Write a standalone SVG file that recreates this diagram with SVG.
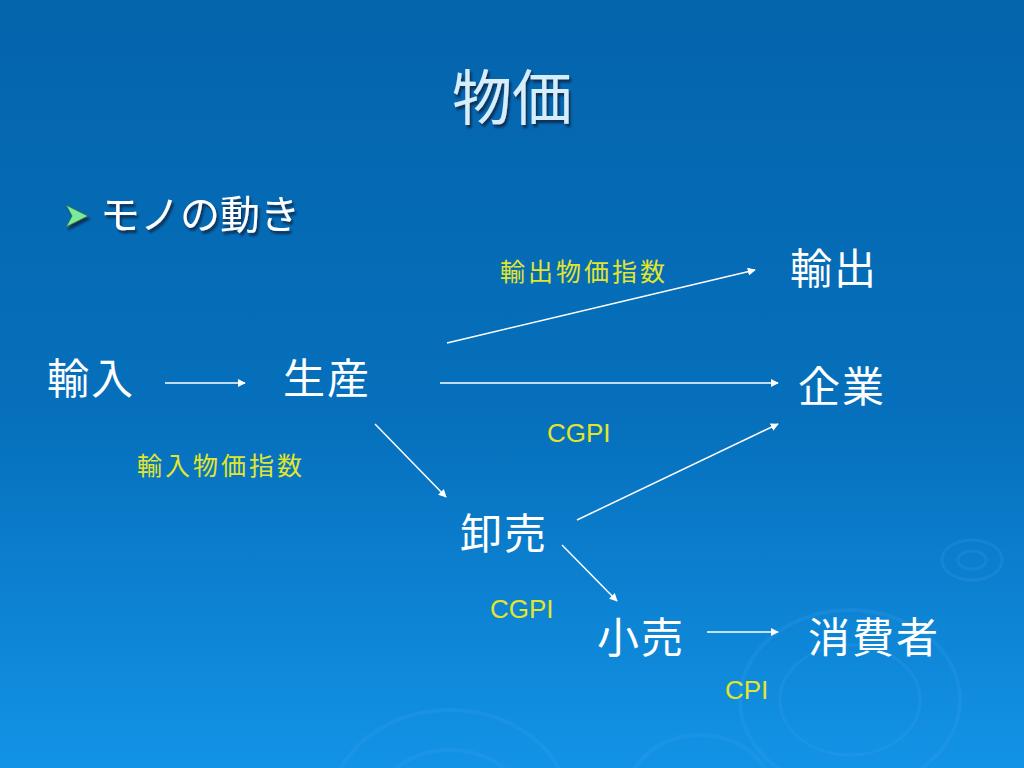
<svg xmlns="http://www.w3.org/2000/svg" width="1024" height="768" viewBox="0 0 1024 768">
<defs>
<linearGradient id="bg" x1="0" y1="0" x2="0" y2="1">
<stop offset="0" stop-color="#0464AC"/>
<stop offset="0.55" stop-color="#0670BC"/>
<stop offset="1" stop-color="#1393E6"/>
</linearGradient>
<marker id="ah" viewBox="0 0 10 10" refX="9" refY="5" markerWidth="8" markerHeight="8" markerUnits="userSpaceOnUse" orient="auto">
<path d="M0,0 L10,5 L0,10 z" fill="#FFFFFF"/>
</marker>
<filter id="sh" x="-10%" y="-10%" width="130%" height="140%">
<feDropShadow dx="2" dy="3" stdDeviation="1" flood-color="#0A2440" flood-opacity="0.8"/>
</filter>
</defs>
<style>
.jp{font-family:"Noto Sans CJK JP","Noto Sans CJK SC",sans-serif;}
.node{font-size:42px;fill:#FFFFFF;letter-spacing:2px;}
.lbl{font-size:25px;fill:#E2E62A;letter-spacing:3px;}
.lat{font-family:"Liberation Sans",Arial,sans-serif;font-size:26px;fill:#E2E62A;}
.conn line{stroke:#FFFFFF;stroke-width:1.5;marker-end:url(#ah);}
.rip{fill:none;stroke:#3AA0EE;stroke-opacity:0.22;}
</style>
<rect width="1024" height="768" fill="url(#bg)"/>
<g id="ripples">
<ellipse class="rip" cx="972" cy="560" rx="30" ry="20" stroke-width="3"/>
<ellipse class="rip" cx="972" cy="560" rx="14" ry="9" stroke-width="3"/>
<ellipse class="rip" cx="850" cy="700" rx="110" ry="90" stroke-width="4"/>
<ellipse class="rip" cx="850" cy="700" rx="70" ry="55" stroke-width="3"/>
<ellipse class="rip" cx="700" cy="790" rx="70" ry="55" stroke-width="4"/>
<ellipse class="rip" cx="450" cy="810" rx="120" ry="100" stroke-width="4"/>
<ellipse class="rip" cx="450" cy="810" rx="75" ry="60" stroke-width="4"/>
</g>
<g id="title">
<text class="jp" x="512" y="120" text-anchor="middle" font-size="60" fill="#D6EDFB" filter="url(#sh)">物価</text>
</g>
<g id="bullet" filter="url(#sh)">
<path d="M66,205 L88,216 L66,227 L72,216 z" fill="#7BEA9A" stroke="#2C6E3E" stroke-width="0.8"/>
<text class="jp" x="100" y="229" font-size="40" fill="#FFFFFF">モノの動き</text>
</g>
<g class="conn" id="connectors">
<line x1="165" y1="383" x2="245" y2="383"/>
<line x1="447" y1="343" x2="755" y2="270"/>
<line x1="440" y1="383" x2="778" y2="383"/>
<line x1="375" y1="424" x2="446" y2="497"/>
<line x1="577" y1="520" x2="778" y2="424"/>
<line x1="562" y1="545" x2="617" y2="601"/>
<line x1="707" y1="632" x2="778" y2="632"/>
</g>
<g id="n-yunyu"><text class="jp node" x="47" y="394">輸入</text></g>
<g id="n-seisan"><text class="jp node" x="283" y="394">生産</text></g>
<g id="n-yushutsu"><text class="jp node" x="790" y="284">輸出</text></g>
<g id="n-kigyo"><text class="jp node" x="798" y="402">企業</text></g>
<g id="n-oroshi"><text class="jp node" x="460" y="549">卸売</text></g>
<g id="n-kouri"><text class="jp node" x="597" y="653">小売</text></g>
<g id="n-shohisha"><text class="jp node" x="808" y="653">消費者</text></g>
<g id="labels">
<text class="jp lbl" x="137" y="475">輸入物価指数</text>
<text class="jp lbl" x="500" y="281">輸出物価指数</text>
<text class="lat" x="547" y="442">CGPI</text>
<text class="lat" x="490" y="618">CGPI</text>
<text class="lat" x="725" y="699">CPI</text>
</g>
</svg>
